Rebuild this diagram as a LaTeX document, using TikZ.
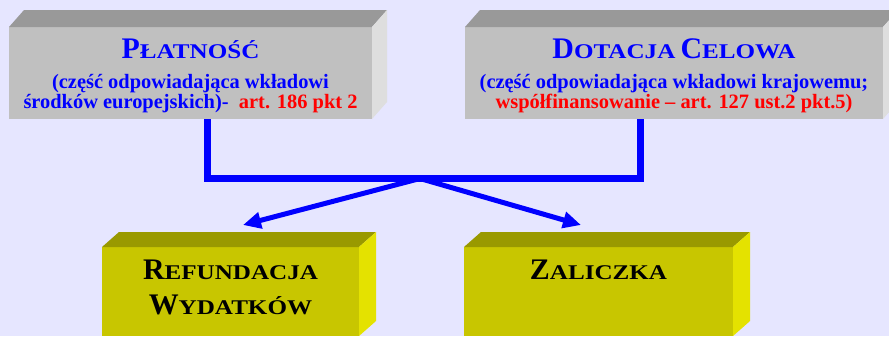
\documentclass[tikz,border=0pt]{standalone}
\usepackage{fontspec}
\setmainfont{Liberation Serif}
\usepackage{graphicx}
\usetikzlibrary{arrows.meta}

\definecolor{bg}{RGB}{230,230,255}
\definecolor{gfront}{RGB}{192,192,192}
\definecolor{gtop}{RGB}{153,153,153}
\definecolor{gside}{RGB}{222,222,222}
\definecolor{yfront}{RGB}{200,198,0}
\definecolor{ytop}{RGB}{153,153,0}
\definecolor{yside}{RGB}{228,226,0}

% fake small caps: big first letter, wider small capitals after it
\newcommand\smc[2]{{\fontsize{30}{30}\selectfont #1}\scalebox{1.2}[1]{\fontsize{21}{21}\selectfont #2}}

\tikzset{
  face/.style={inner sep=0pt, outer sep=0pt, anchor=north west, align=center},
  grayface/.style={face, fill=gfront, text=blue, font=\bfseries\fontsize{20.5}{20}\selectfont},
  yelface/.style={face, fill=yfront, text=black, font=\bfseries\fontsize{30}{35}\selectfont, text depth=8bp},
  bus/.style={draw=blue, line width=7bp},
  feed/.style={draw=blue, line width=5bp, -{Triangle[length=18bp,width=16bp]}}
}

\begin{document}
\begin{tikzpicture}[x=1bp,y=-1bp]
\fill[bg] (0,0) rectangle (889,336);
\useasboundingbox (0,0) rectangle (889,336);

% front faces
\node[grayface, minimum width=363bp, minimum height=92bp] (plat) at (9,27)
  {\rule{0pt}{26bp}\smc{P}{ŁATNOŚĆ}\\[10bp]
   (część odpowiadająca wkładowi\\
   środków europejskich)-\ \ \textcolor{red}{art. 186 pkt 2}};
\node[grayface, minimum width=418bp, minimum height=92bp] (dot) at (465,27)
  {\rule{0pt}{26bp}\smc{D}{OTACJA} \smc{C}{ELOWA}\\[10bp]
   (część odpowiadająca wkładowi krajowemu;\\
   \textcolor{red}{współfinansowanie – art. 127 ust.2 pkt.5)}};
\node[yelface, minimum width=257bp, minimum height=89bp] (ref) at (102,247)
  {\smc{R}{EFUNDACJA}\\\smc{W}{YDATKÓW}};
\node[yelface, minimum width=269bp, minimum height=89bp] (zal) at (464,247)
  {\smc{Z}{ALICZKA}\\\mbox{}};

% top and side faces
\foreach \n/\tc/\sc/\dx/\dy in {plat/gtop/gside/15/17, dot/gtop/gside/15/17, ref/ytop/yside/17/15, zal/ytop/yside/17/15} {
  \fill[\tc] (\n.north west) -- ++(\dx,-\dy) -- ([shift={(\dx,-\dy)}]\n.north east) -- (\n.north east) -- cycle;
  \fill[\sc] (\n.north east) -- ++(\dx,-\dy) -- ([shift={(\dx,-\dy)}]\n.south east) -- (\n.south east) -- cycle;
}

% connectors
\coordinate (hub) at (420,178.5);
\draw[feed] (hub) -- ([shift={(12.5,-22)}]ref.north);
\draw[feed] (hub) -- ([shift={(-17.5,-22)}]zal.north);
\draw[bus] ([xshift=16.5bp]plat.south) |- (hub) -| ([xshift=-34bp]dot.south);
\end{tikzpicture}
\end{document}
